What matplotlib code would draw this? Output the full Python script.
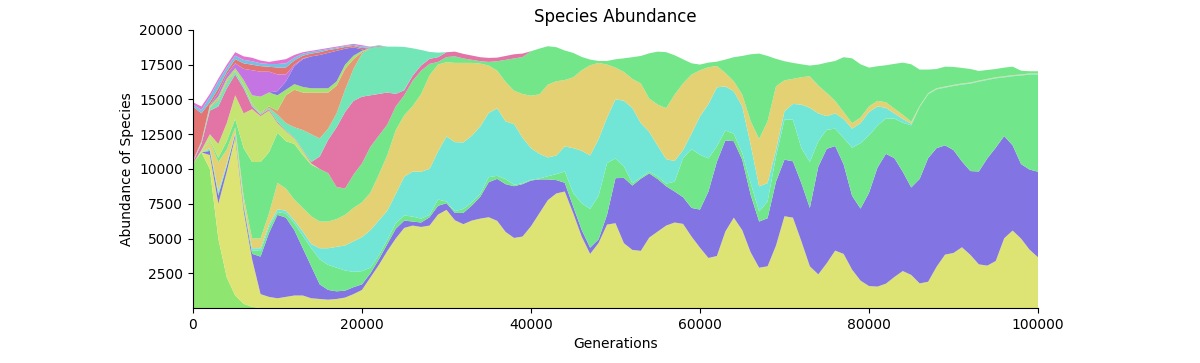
import numpy as np
import matplotlib
matplotlib.use("Agg")
from matplotlib import pyplot as plt

# generations, one sample every 1000
gens = np.arange(0, 100001, 1000)

# upper edge of each band (stacked)
light_green_top = [10400, 11200, 10000, 5000, 2200, 900, 300, 80, 0]

yellow_top = [10400, 11200, 11000, 7500, 9800, 12300, 7000, 3500, 1000, 800,
              700, 800, 900, 900, 700, 650, 600, 650, 750, 1000,
              1300, 2200, 3100, 4100, 5000,
              5760, 5930, 5830, 5930, 6720, 7060, 6310, 6030, 6290, 6430,
              6530, 6270, 5470, 5040, 5140, 5880, 6820, 7760, 8240, 8380,
              6820, 5140, 3890, 4680, 6000, 6100, 4660, 4180, 4110, 5070,
              5500, 5930, 6150, 6050, 5140, 4340, 3600, 3740, 5500, 6500,
              5600, 4000, 2900, 3000, 4500, 6600, 6500, 4800, 3000, 2420,
              3220, 4130, 3890, 2760, 1970, 1580, 1540, 1750, 2230, 2660,
              2380, 1770, 1890, 2970, 3840, 3960, 4370, 3820, 3140, 3050,
              3380, 5020, 5570, 4990, 4200, 3650]

purple_top = [10400, 11200, 11300, 8100, 10200, 12500, 7300, 3900, 3700, 5400,
              6700, 6500, 5600, 4300, 3000, 1700, 1300, 1200, 1250, 1500,
              1700, 2500, 3500, 4600, 5700,
              6290, 6220, 6150, 6530, 7350, 7540, 6840, 6840, 7370, 8000,
              9050, 9290, 8910, 8760, 8910, 9170, 9250, 9250, 9200, 9010,
              7300, 5620, 4340, 4940, 6700, 9340, 9360, 8810, 9300, 9680,
              9270, 8760, 8380, 7970, 7200, 7080, 8380, 10520, 12050, 12000,
              10670, 8140, 6220, 6460, 9100, 10670, 10550, 8980, 7200, 10160,
              11450, 11650, 10330, 8070, 7150, 8280, 10090, 11090, 10780, 9800,
              8670, 9290, 10780, 11500, 11700, 11360, 10540, 9850, 9820, 10760,
              11530, 12370, 11700, 10350, 9960, 9800]

green_top = [10400, 11200, 11400, 8250, 10300, 12550, 7450, 4150, 4100, 5800,
             6900, 6800, 6100, 5200, 4300, 3500, 3100, 2900, 2700, 2600,
             2650, 2900, 3800, 4900, 6100,
             6650, 6580, 6430, 6700, 7800, 7660, 6960, 7130, 7590, 8210,
             9410, 9510, 9270, 8860, 8980, 9220, 9320, 9480, 9630, 9820,
             8260, 7540, 7130, 8070, 10420, 10760, 10180, 8980, 9400, 9800,
             9450, 8950, 9080, 10780, 11430, 11020, 10760, 11620, 12770, 12530,
             11140, 8980, 6940, 7660, 10910, 13550, 13550, 11500, 10500, 12000,
             12820, 12900, 12220, 11530, 11860, 12420, 13110, 13640, 13620, 13330,
             13140, 14460, 15370, 15730, 15850, 15970, 16070, 16140, 16280, 16400,
             16520, 16590, 16670, 16720, 16790, 16790]

teal_top = [10400, 11200, 11500, 8400, 10400, 12600, 7550, 4300, 4300, 6000,
            7100, 7000, 6300, 5500, 4600, 4300, 4300, 4400, 4500, 4800,
            5100, 5600, 6300, 7000, 8200,
            9440, 9820, 9800, 10010, 11260, 12340, 11930, 11910, 12390, 13060,
            14030, 14360, 13420, 13230, 12250, 11500, 11090, 10830, 10970, 11620,
            11500, 11310, 10970, 12150, 13690, 15010, 14910, 14380, 13300, 12660,
            11670, 10710, 10570, 11360, 12540, 13780, 14670, 15870, 15940, 15590,
            14510, 11750, 8750, 8990, 11380, 14150, 14680, 14630, 14400, 14000,
            13800, 14000, 13600, 12900, 13300, 14100, 14500, 14400, 14000, 13600,
            13250, 14500, 15410, 15770, 15890, 16010, 16110, 16180, 16320, 16440,
            16560, 16630, 16710, 16760, 16830, 16830]

gold_top = [10400, 11250, 12000, 10500, 11400, 13000, 8000, 5000, 5000, 6800,
            9000, 8600, 7800, 7200, 6600, 6220, 6220, 6400, 6700, 7200,
            7600, 8300, 9600, 11000, 12800,
            13860, 14530, 15390, 16740, 17510, 17680, 17630, 17630, 17630, 17580,
            17440, 17070, 16260, 15630, 15390, 15270, 15370, 16070, 16310, 16400,
            16590, 17100, 17460, 17630, 17510, 17290, 16980, 16480, 16150, 15060,
            14630, 14380, 15350, 16160, 16790, 17100, 17320, 17410, 16910, 16310,
            15350, 13430, 12160, 13430, 15950, 16380, 16480, 16600, 16670, 16000,
            15470, 14900, 14100, 13300, 13700, 14500, 14900, 14800, 14350, 13900,
            13400, 14540, 15450, 15810, 15930, 16050, 16150, 16220, 16360, 16480,
            16600, 16670, 16750, 16800, 16870, 16870]

green2_top = [10400, 11300, 12100, 10800, 12000, 13600, 11500, 10500, 10500, 11200,
              12600, 12000, 11800, 11000, 10300, 10000, 9700, 8700, 8600, 9600,
              10400, 11600, 12400, 13200, 14500,
              15300, 16350, 17070, 17560, 17700, 18050, 18100, 17950, 17850, 17750,
              17700, 17750, 17850, 17950, 18050, 18470, 18660, 18830, 18760, 18520,
              18350, 18060, 17870, 17770, 17770, 17890, 17960, 18040, 18130, 18320,
              18440, 18400, 18180, 17890, 17600, 17510, 17650, 17720, 17870, 18040,
              18130, 18250, 18300, 18130, 17920, 17750, 17630, 17530, 17440, 17510,
              17650, 17770, 18040, 17960, 17530, 17290, 17390, 17460, 17560, 17650,
              17530, 17150, 17150, 17190, 17360, 17340, 17270, 17190, 17050, 17120,
              17190, 17290, 17360, 17070, 17030, 17030]

lime_top = [10400, 11350, 12500, 11800, 13300, 15300, 14000, 14300, 13800, 14200,
            13300, 12700, 12200, 11300, 10400]

pink_top = [10500, 11800, 14200, 14500, 15800, 16800, 15800, 14500, 13900, 14300,
            13400, 12750, 12250, 11350, 10500, 10900, 12100, 13000, 14100, 14900,
            15200, 15300, 15400, 15500, 15400,
            15660, 16710, 17440, 17920, 18040, 18400, 18440, 18280, 18160, 18040,
            17990, 18010, 18130, 18250, 18300]

mint_top = [10550, 11900, 14400, 14900, 16200, 17000, 16000, 14650, 14000, 14400,
            13900, 13300, 13000, 12800, 12500, 12200, 12900, 14000, 15700, 17200,
            18300, 18700, 18800, 18800, 18800,
            18780, 18680, 18560, 18420, 18370]

salmon_top = [10550, 11900, 14450, 15000, 16300, 17050, 16050, 14700, 14050, 14500,
              14200, 15300, 15700, 15500, 15500, 15500, 15500, 16000, 17200, 17900,
              18400, 18700, 18800, 18800, 18800]

pale_green_top = [10550, 11950, 14550, 15200, 16500, 17250, 16400, 15300, 15200, 15500,
                  15300, 15700, 16100, 15900, 15800, 15800, 15800, 16300, 17500, 18150,
                  18500, 18700, 18800, 18800, 18800]

purple2_top = [10550, 11950, 14550, 15200, 16500, 17250, 16400, 15300, 15200, 15500,
               15600, 16300, 17400, 17900, 18100, 18200, 18350, 18500, 18650, 18750,
               18600, 18700, 18800, 18800, 18800]

violet_top = [10600, 12000, 14600, 15500, 16800, 17600, 17200, 17100, 17000, 17000,
              16800, 16800, 17500, 17950, 18100, 18200, 18350, 18500, 18650, 18750,
              18600, 18700, 18800, 18800, 18800]

red_top = [14500, 14000, 14800, 15800, 17000, 17900, 17600, 17500, 17400, 17350,
           17300, 17300, 17800, 18150, 18300, 18400, 18550, 18650, 18780, 18850,
           18700, 18750, 18850, 18800, 18800]

blue_top = [14650, 14250, 15200, 16300, 17300, 18150, 17850, 17750, 17600, 17550,
            17550, 17600, 18000, 18300, 18420, 18520, 18630, 18730, 18850, 18930,
            18800, 18800, 18900, 18800, 18800]

magenta_top = [14800, 14500, 15400, 16500, 17500, 18400, 18100, 18000, 17800, 17700,
               17800, 17900, 18200, 18400, 18500, 18600, 18700, 18800, 18900, 19000,
               18900, 18800, 18900, 18800, 18800]

tops = [light_green_top, yellow_top, purple_top, green_top, teal_top, gold_top,
        green2_top, lime_top, pink_top, mint_top, salmon_top, pale_green_top,
        purple2_top, violet_top, red_top, blue_top, magenta_top]

colors = ['#8ee670', '#dee474', '#8275e3', '#72e68b', '#72e6d6', '#e3d174',
          '#72e689', '#c6e472', '#e374a6', '#72e6b7', '#e39a74', '#a3e46f',
          '#8375e3', '#c575e3', '#e37474', '#74c2e3', '#e374d2']

# a band that has died out keeps the edge of the band below it
edges = []
below = np.zeros(len(gens))
for t in tops:
    e = below.copy()
    e[:len(t)] = t
    e = np.maximum(e, below)
    edges.append(e)
    below = e

counts = np.diff(np.vstack([np.zeros(len(gens))] + edges), axis=0)

fig = plt.figure(figsize=(12, 3.63), dpi=100)
ax = fig.add_axes([0.1608, 0.1515, 0.7042, 0.766])
ax.stackplot(gens, counts, colors=colors, linewidth=0)
ax.set_xlim(0, 100000)
ax.set_ylim(1, 20000)
ax.set_yticks(np.arange(2500, 20001, 2500))
ax.set_xticks(np.arange(0, 100001, 20000))
ax.spines['top'].set_visible(False)
ax.spines['right'].set_visible(False)
ax.set_title('Species Abundance')
ax.set_xlabel('Generations')
ax.set_ylabel('Abundance of Species')
fig.savefig('out.png', dpi=100)
